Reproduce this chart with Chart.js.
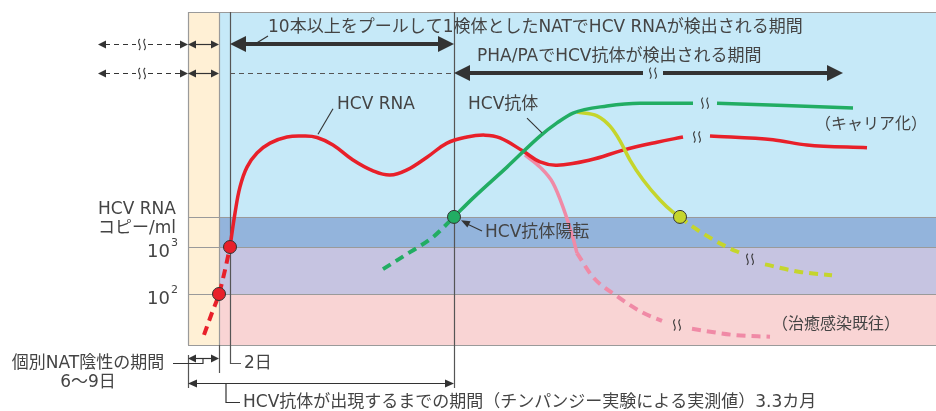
<!DOCTYPE html>
<html><head><meta charset="utf-8">
<script src="https://cdn.jsdelivr.net/npm/chart.js@4"></script>
<style>html,body{margin:0;padding:0;background:#fff}canvas{display:block}</style>
</head><body>
<canvas id="c" width="936" height="411"></canvas>
<script>
// ---- data (x: time units, y: log10 copies / antibody level) ----
const rnaLeadX = [1.6, 2.4, 3.1, 3.7, 4.2];
const rnaLeadY = [1.13, 1.6, 2.0, 2.51, 3.0];
const rnaX = [4.2, 4.7, 5.2, 5.9, 6.9, 8.2, 9.9, 11.5, 12.9, 14.5, 16.5, 18.5, 20.2, 21.9, 23.9, 25.9, 27.9, 29.7, 31.2, 33.5, 35.2, 36.9, 40.2, 43.5, 46.9, 49.5];
const rnaY = [3.0, 3.72, 4.28, 4.70, 5.0, 5.21, 5.34, 5.36, 5.33, 5.17, 4.85, 4.62, 4.53, 4.64, 4.91, 5.21, 5.34, 5.38, 5.32, 5.04, 4.81, 4.74, 4.85, 5.06, 5.23, 5.34];
const rnaTailX = [52.2, 58.5, 61.9, 67.9];
const rnaTailY = [5.36, 5.28, 5.17, 5.11];
const abLeadX = [19.5, 22.2, 24.5, 26.6];
const abLeadY = [2.53, 2.89, 3.21, 3.64];
const abX = [26.6, 28.5, 31.9, 35.2, 36.9, 38.5, 41.9, 45.2, 50.5];
const abY = [3.64, 4.04, 4.70, 5.36, 5.64, 5.85, 6.0, 6.06, 6.06];
const abTailX = [52.9, 66.5];
const abTailY = [6.06, 5.96];
const cureAbX = [38.9, 40.9, 42.2, 43.2, 44.2, 45.5, 47.2, 48.5, 49.2];
const cureAbY = [5.87, 5.79, 5.57, 5.26, 4.85, 4.43, 4.0, 3.74, 3.64];
const cureAbDashX = [49.2, 50.2, 53.9, 55.4];
const cureAbDashY = [3.64, 3.47, 3.0, 2.86];
const cureAbTailX = [57.7, 61.2, 64.4];
const cureAbTailY = [2.63, 2.47, 2.40];
const cureRnaX = [33.7, 35.2, 36.5, 37.5, 38.5, 38.9];
const cureRnaY = [4.96, 4.70, 4.36, 3.85, 3.19, 2.87];
const cureRnaDashX = [38.9, 40.5, 43.0, 45.5, 47.4];
const cureRnaDashY = [2.87, 2.36, 1.94, 1.60, 1.43];
const cureRnaTailX = [50.4, 54.5, 58.2];
const cureRnaTailY = [1.26, 1.13, 1.09];
const rnaDotsX = [3.1, 4.2];
const rnaDotsY = [2.0, 3.0];
const abDotX = [26.6];
const abDotY = [3.64];
const cureDotX = [49.2];
const cureDotY = [3.64];
// band thresholds (log10 copies) and tick labels
const bandLevels = [3.64, 3, 2];
const tickLevels = [3, 2];
const tickBase = ['10', '10'];
const tickExp = ['3', '2'];
// key time points
const frameTime = [0, 74.8];
const frameLevel = [0.915, 8];
const natNegEnd = 3.1;
const poolStart = 4.2;
const abDetect = 26.6;
const phaEnd = 65.5;
// texts
const txtPool = '10本以上をプールして1検体としたNATでHCV RNAが検出される期間';
const txtPha = 'PHA/PAでHCV抗体が検出される期間';
const txtRna = 'HCV RNA';
const txtAb = 'HCV抗体';
const txtSero = 'HCV抗体陽転';
const txtCarrier = '（キャリア化）';
const txtCured = '（治癒感染既往）';
const txtAxis1 = 'HCV RNA';
const txtAxis2 = 'コピー/ml';
const txt2d = '2日';
const txtWin1 = '個別NAT陰性の期間';
const txtWin2 = '6〜9日';
const txtChimp = 'HCV抗体が出現するまでの期間（チンパンジー実験による実測値）3.3カ月';

const pts = (xs, ys) => xs.map((v, i) => ({x: v, y: ys[i]}));
const RED = '#e8202a', GREEN = '#22ad63', YEL = '#c5d52c', PINK = '#f08aa6';
const line = (xs, ys, color, dashed, smooth) => ({
  data: pts(xs, ys), borderColor: color, borderWidth: dashed ? 4 : 3.5,
  borderDash: dashed ? [9, 6] : [],
  cubicInterpolationMode: smooth ? 'default' : 'monotone', tension: smooth ? 0.4 : 0,
  pointRadius: 0, fill: false, borderCapStyle: 'butt'
});
const dots = (xs, ys, color) => ({
  data: pts(xs, ys), showLine: false, pointRadius: 6.5, pointBackgroundColor: color,
  pointBorderColor: '#333', pointBorderWidth: 1, borderColor: color
});

const FONT = '"DejaVu Sans", "Noto Sans CJK JP", sans-serif';
const annot = {
  id: 'annot',
  beforeDatasetsDraw(chart) {
    const {ctx, scales: {x, y}} = chart;
    const X = v => x.getPixelForValue(v), Y = v => y.getPixelForValue(v);
    const c = v => Math.round(v) + 0.5;
    ctx.save();
    const L = X(frameTime[0]), R = X(frameTime[1]), T = Y(frameLevel[1]), B = Y(frameLevel[0]);
    const N = X(natNegEnd);
    ctx.fillStyle = '#fff0d5'; ctx.fillRect(L, T, N - L, B - T);
    const cols = ['#c6e9f8', '#93b4dc', '#c6c4e1', '#f9d4d4'];
    const lv = [frameLevel[1], ...bandLevels, frameLevel[0]];
    for (let i = 0; i < 4; i++) {
      ctx.fillStyle = cols[i];
      ctx.fillRect(N, Y(lv[i]), R - N, Y(lv[i + 1]) - Y(lv[i]));
    }
    ctx.strokeStyle = '#9a9a9a'; ctx.lineWidth = 1.2;
    ctx.beginPath();
    for (const l of lv) { ctx.moveTo(L, c(Y(l))); ctx.lineTo(R, c(Y(l))); }
    ctx.moveTo(c(L), T); ctx.lineTo(c(L), B);
    ctx.moveTo(c(N), T); ctx.lineTo(c(N), B);
    ctx.stroke();
    // dark verticals
    ctx.strokeStyle = '#555'; ctx.lineWidth = 1.2;
    ctx.beginPath();
    ctx.moveTo(c(X(poolStart)), T); ctx.lineTo(c(X(poolStart)), c(Y(0.53)));
    ctx.lineTo(X(5.3), c(Y(0.53)));
    ctx.moveTo(c(X(abDetect)), T); ctx.lineTo(c(X(abDetect)), Y(0.0));
    ctx.moveTo(c(L), Y(0.70)); ctx.lineTo(c(L), Y(0.0));
    ctx.moveTo(c(N), B); ctx.lineTo(c(N), Y(0.32));
    ctx.stroke();
    ctx.restore();
  },
  afterDatasetsDraw(chart) {
    const {ctx, scales: {x, y}} = chart;
    const X = v => x.getPixelForValue(v), Y = v => y.getPixelForValue(v);
    ctx.save();
    const ink = '#333';
    const head = (px, py, ang, len, half) => {
      ctx.save(); ctx.translate(px, py); ctx.rotate(ang);
      ctx.beginPath(); ctx.moveTo(0, 0); ctx.lineTo(-len, -half); ctx.lineTo(-len, half);
      ctx.closePath(); ctx.fill(); ctx.restore();
    };
    const seg = (x1, y1, x2, y2, w, dash) => {
      ctx.lineWidth = w; ctx.setLineDash(dash || []);
      ctx.beginPath(); ctx.moveTo(x1, y1); ctx.lineTo(x2, y2); ctx.stroke(); ctx.setLineDash([]);
    };
    const squig = (cx, cy) => {
      ctx.save(); ctx.strokeStyle = '#333'; ctx.lineWidth = 1.1; ctx.setLineDash([]);
      for (const dx of [-2.6, 2.6]) {
        ctx.beginPath(); ctx.moveTo(cx + dx + 0.5, cy - 5.5);
        ctx.bezierCurveTo(cx + dx - 4, cy - 2, cx + dx + 4, cy + 2, cx + dx - 0.5, cy + 5.5);
        ctx.stroke();
      }
      ctx.restore();
    };
    ctx.strokeStyle = ink; ctx.fillStyle = ink;
    const L = X(frameTime[0]), N = X(natNegEnd), P = X(poolStart), A = X(abDetect);
    const leftX = X(-9.0), sqX = X(-4.6);
    for (const ly of [7.32, 6.70]) {
      const yy = Math.round(Y(ly)) + 0.5;
      seg(leftX + 7, yy, sqX - 6, yy, 1.2, [5, 4]);
      seg(sqX + 6, yy, L - 7, yy, 1.2, [5, 4]);
      head(leftX, yy, Math.PI, 8, 4); head(L, yy, 0, 8, 4);
      squig(sqX, yy);
      seg(L + 7, yy, N - 7, yy, 1.2); head(L, yy, Math.PI, 8, 4); head(N, yy, 0, 8, 4);
    }
    // row 1 thick arrow
    let yy = Y(7.32);
    seg(P + 14, yy, A - 14, yy, 4); head(P, yy, Math.PI, 16, 8); head(A, yy, 0, 16, 8);
    seg(X(6.7), yy, X(8.0), Y(7.49), 1.1);
    // row 2
    yy = Math.round(Y(6.70)) + 0.5;
    ctx.strokeStyle = '#555'; seg(P, yy, A - 2, yy, 1.2, [5, 4]); ctx.strokeStyle = ink;
    const E = X(phaEnd), sq2 = X(46.5);
    yy = Y(6.70);
    seg(A + 14, yy, sq2 - 10, yy, 4); seg(sq2 + 10, yy, E - 14, yy, 4);
    head(A, yy, Math.PI, 16, 8); head(E, yy, 0, 16, 8); squig(sq2, yy);
    // squiggles on curves
    squig(X(51.7), Y(6.06)); squig(X(50.9), Y(5.34)); squig(X(56.2), Y(2.74)); squig(X(48.9), Y(1.34));
    // leaders
    seg(X(14.5), Y(5.94), X(13.0), Y(5.40), 1.1);
    seg(X(33.9), Y(5.74), X(35.4), Y(5.43), 1.1);
    seg(X(29.4), Y(3.34), X(27.6), Y(3.52), 1.1);
    head(X(27.3), Y(3.57), Math.atan2(Y(3.57) - Y(3.34), X(27.3) - X(29.4)), 9, 3.5);
    // bottom
    yy = Math.round(Y(0.64)) + 0.5;
    seg(L + 7, yy, N - 7, yy, 1.2); head(L, yy, Math.PI, 8, 4); head(N, yy, 0, 8, 4);
    ctx.beginPath(); ctx.lineWidth = 1.2;
    ctx.moveTo(X(-1.5), Math.round(Y(0.53)) + 0.5); ctx.lineTo(X(1.5), Math.round(Y(0.53)) + 0.5); ctx.lineTo(X(1.5), yy);
    ctx.stroke();
    yy = Math.round(Y(0.106)) + 0.5;
    seg(L + 8, yy, A - 8, yy, 1.2); head(L, yy, Math.PI, 9, 4); head(A, yy, 0, 9, 4);
    ctx.beginPath();
    ctx.moveTo(X(3.8), yy); ctx.lineTo(X(3.8), Math.round(Y(-0.30)) + 0.5); ctx.lineTo(X(5.2), Math.round(Y(-0.30)) + 0.5);
    ctx.stroke();
    // texts
    ctx.fillStyle = '#444'; ctx.textBaseline = 'middle';
    const t = (s, vx, vy, size, align) => {
      ctx.font = size + 'px ' + FONT; ctx.textAlign = align || 'left';
      ctx.fillText(s, X(vx), Y(vy));
    };
    t(txtPool, 8.0, 7.66, 17);
    t(txtPha, 28.9, 7.06, 17);
    t(txtRna, 14.9, 6.04, 17);
    t(txtAb, 28.0, 6.04, 17);
    t(txtSero, 29.7, 3.30, 17);
    t(txtCarrier, 62.7, 5.60, 16);
    t(txtCured, 58.4, 1.34, 16);
    t(txtAxis1, -9.0, 3.79, 17);
    t(txtAxis2, -9.0, 3.40, 17);
    for (let i = 0; i < tickLevels.length; i++) {
      t(tickBase[i], -1.8, tickLevels[i] - 0.11, 18, 'right');
      t(tickExp[i], -1.7, tickLevels[i] + 0.08, 11);
    }
    t(txt2d, 5.6, 0.53, 17);
    t(txtWin1, -10.0, 0.53, 17, 'center');
    t(txtWin2, -10.0, 0.106, 17, 'center');
    t(txtChimp, 5.5, -0.30, 17);
    ctx.restore();
  }
};

new Chart(document.getElementById('c'), {
  type: 'line',
  data: {
    datasets: [
      dots(rnaDotsX, rnaDotsY, RED),
      dots(abDotX, abDotY, GREEN),
      dots(cureDotX, cureDotY, YEL),
      line(abX, abY, GREEN), line(abTailX, abTailY, GREEN), line(abLeadX, abLeadY, GREEN, true),
      line(cureAbX, cureAbY, YEL), line(cureAbDashX, cureAbDashY, YEL, true), line(cureAbTailX, cureAbTailY, YEL, true),
      line(rnaX, rnaY, RED, false, true), line(rnaTailX, rnaTailY, RED), line(rnaLeadX, rnaLeadY, RED, true),
      line(cureRnaX, cureRnaY, PINK), line(cureRnaDashX, cureRnaDashY, PINK, true), line(cureRnaTailX, cureRnaTailY, PINK, true)
    ]
  },
  options: {
    responsive: false, animation: false, events: [],
    layout: {padding: 0, autoPadding: false},
    plugins: {legend: {display: false}, tooltip: {enabled: false}},
    scales: {
      x: {type: 'linear', min: -18.8, max: 74.8, display: false},
      y: {type: 'linear', min: -23 / 47, max: 388 / 47, display: false}
    }
  },
  plugins: [annot]
});
</script>
</body></html>
